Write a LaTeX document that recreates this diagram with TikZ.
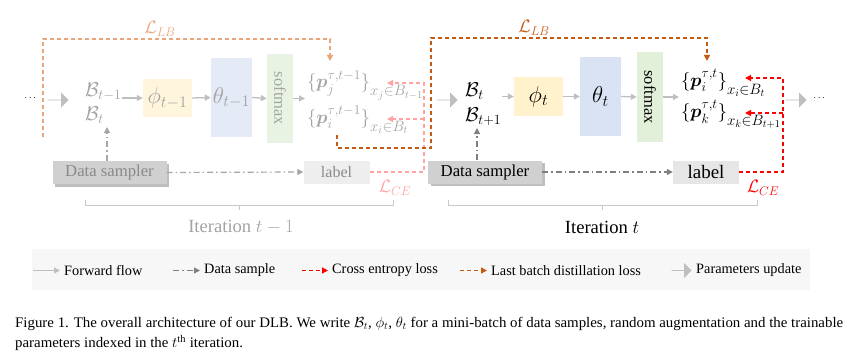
\RequirePackage{fix-cm}
\documentclass[tikz,border=0pt]{standalone}
\usepackage{amsmath}
\usepackage{fontspec}
\setmainfont{Liberation Serif}
\usetikzlibrary{arrows.meta,shapes.arrows,shadows,calc}
\definecolor{fwdg}{HTML}{BFBFBF}
\definecolor{dsg}{HTML}{7F7F7F}
\definecolor{dsgl}{HTML}{A6A6A6}
\definecolor{ored}{HTML}{C55A11}
\definecolor{oredl}{HTML}{EBA57A}
\definecolor{cered}{HTML}{FF0000}
\definecolor{cel}{HTML}{FFA3A3}
\definecolor{phic}{HTML}{FFF2CC}
\definecolor{phicl}{HTML}{FFF5DC}
\definecolor{thc}{HTML}{DAE3F3}
\definecolor{thcl}{HTML}{E4EAF6}
\definecolor{smc}{HTML}{E2F0D9}
\definecolor{smcl}{HTML}{E9F3E3}
\definecolor{dsc}{HTML}{D0D0D0}
\definecolor{lbc}{HTML}{E7E6E6}
\definecolor{lbcl}{HTML}{EEEEEE}
\definecolor{gtx}{HTML}{A3A3A3}
\definecolor{gtxd}{HTML}{8A8A8A}
\definecolor{bracec}{HTML}{C8C8C8}
\definecolor{legbg}{HTML}{F7F7F7}
\newcommand\myfs[1]{\fontsize{#1}{#1}\selectfont}
\newcommand\lowsub[1]{\raisebox{-8pt}{\myfs{15}$#1$}}
\newcommand\bigscr[1]{\mbox{\myfs{13.5}$#1$}}
\tikzset{
  tip/.style={-{Triangle[length=6pt,width=6pt]}},
  fwd/.style={draw=fwdg, line width=1.3pt, tip},
  samp/.style={draw=dsg, line width=1.2pt, dash pattern=on 6pt off 3pt on 1.5pt off 3pt, tip},
  sampl/.style={samp, draw=dsgl},
  celoss/.style={draw=cered, line width=1.3pt, dash pattern=on 4pt off 3pt, tip},
  celossl/.style={celoss, draw=cel},
  lbloss/.style={draw=ored, line width=1.5pt, dash pattern=on 4pt off 3pt, tip},
  lblossl/.style={lbloss, draw=oredl},
  bigarr/.style={single arrow, fill=fwdg, draw=none, minimum height=21pt, minimum width=15pt, single arrow head extend=3.5pt, inner sep=0pt},
  mbox/.style={inner sep=0pt, draw=none},
  dsbox/.style={fill=dsc, minimum width=114pt, minimum height=23pt, inner sep=0pt, font=\myfs{16.7},
     drop shadow={shadow xshift=2.5pt, shadow yshift=-2.5pt, fill=black, opacity=0.25}},
  lbox/.style={minimum width=66pt, minimum height=23pt, inner sep=0pt},
  mtxt/.style={inner sep=0pt, anchor=base west},
  legtxt/.style={inner sep=0pt, anchor=west, font=\myfs{14.3}},
}
\newsavebox\capA
\begin{document}
\sbox\capA{\myfs{14.6}Figure 1. The overall architecture of our DLB. We write $\mathcal{B}_t$, $\phi_t$, $\theta_t$ for a mini-batch of data samples, random augmentation and the trainable}%
\pgfmathsetmacro\capsx{828/\wd\capA}%
\begin{tikzpicture}[x=1pt,y=-1pt]
\useasboundingbox (0,0) rectangle (854,361);
% ---------------- iteration t-1 (faded) ----------------
\node (dotl) at (31,98) {$\cdots$};
\node[bigarr] (ba1) at (58,100) {};
\node[mtxt, text=gtx, font=\myfs{20}] (bl1) at (85,96.5) {$\mathcal{B}_{t-1}$};
\node[mtxt, text=gtx, font=\myfs{20}] (bl2) at (85,120.5) {$\mathcal{B}_{t}$};
\node[mbox, fill=phicl, minimum width=49pt, minimum height=38pt, text=gtx, font=\myfs{23}] (phil) at (167.5,98) {$\phi_{t-1}$};
\node[mbox, fill=thcl, minimum width=41pt, minimum height=79pt, text=gtx, font=\myfs{23}] (thl) at (231.5,97.5) {$\theta_{t-1}$};
\node[mbox, fill=smcl, minimum width=26pt, minimum height=89pt, text=gtx, font=\myfs{16.5}] (sml) at (280,98.5) {\rotatebox{-90}{softmax}};
\node[mtxt, text=gtx, font=\myfs{18.5}] (pjl) at (307,88) {$\{\boldsymbol{p}_{\bigscr{j}}^{\bigscr{\tau{,}t{-}1}}\}$\lowsub{x_j{\in}B_{t-1}}};
\node[mtxt, text=gtx, font=\myfs{18.5}] (pil) at (307,123) {$\{\boldsymbol{p}_{\bigscr{i}}^{\bigscr{\tau{,}t{-}1}}\}$\lowsub{x_i{\in}B_{t}}};
\coordinate (pinl) at (305,98.5);
\draw[fwd] (bl1.east |- phil.west) -- (phil.west);
\draw[fwd] (phil.east) -- (thl.west);
\draw[fwd] (thl.east) -- (sml.west);
\draw[fwd] (sml.east) -- (pinl);
\node[dsbox, text=gtxd] (dsl) at (109.5,172.5) {Data sampler};
\node[lbox, fill=lbcl, text=gtxd, font=\myfs{16}] (lbll) at (336.5,172) {label};
\coordinate (upl) at (107,127);
\draw[sampl] (dsl.north -| upl) -- (upl);
\draw[sampl] (dsl.east) -- (lbll.west);
% faded losses
\coordinate (cel1) at (424,83); \coordinate (cel2) at (424,119);
\coordinate (celt1) at (387,83); \coordinate (celt2) at (387,119);
\draw[celossl] (lbll.east) -| (cel1) -- (celt1);
\draw[celossl] (cel2) -- (celt2);
\node[text=cel, font=\myfs{18}] (lcel) at (395,188) {$\mathcal{L}_{CE}$};
\coordinate (lbsl) at (43,137); \coordinate (lbal) at (43,39); \coordinate (lbbl) at (330,39); \coordinate (lbtl) at (330,61);
\draw[lblossl] (lbsl) -- (lbal) -- (lbbl) -- (lbtl);
\node[text=oredl, font=\myfs{18}] (llbl) at (160,29) {$\mathcal{L}_{LB}$};
% brace t-1
\coordinate (brl1) at (85,200); \coordinate (brl2) at (393,200);
\draw[bracec, line width=0.9pt] (brl1) -- ++(0,5) -| (brl2);
\draw[bracec, line width=0.9pt] (239,205) -- (239,210);
\node[text=gtx, font=\myfs{18.6}] (itl) at (241,227) {Iteration $t-1$};
% ---------------- iteration t ----------------
\node[bigarr] (ba2) at (447,100) {};
\node[mtxt, font=\myfs{20}] (br1) at (465,96.5) {$\mathcal{B}_{t}$};
\node[mtxt, font=\myfs{20}] (br2) at (465,121.5) {$\mathcal{B}_{t+1}$};
\node[mbox, fill=phic, minimum width=49pt, minimum height=39pt, font=\myfs{23}] (phir) at (538.5,96.5) {$\phi_{t}$};
\node[mbox, fill=thc, minimum width=41pt, minimum height=79pt, font=\myfs{23}] (thr) at (600.5,96.5) {$\theta_{t}$};
\node[mbox, fill=smc, minimum width=26pt, minimum height=90pt, font=\myfs{16.5}] (smr) at (650,97) {\rotatebox{-90}{softmax}};
\node[mtxt, font=\myfs{18.5}] (pir) at (681,86.7) {$\{\boldsymbol{p}_{\bigscr{i}}^{\bigscr{\tau{,}t}}\}$\lowsub{x_i{\in}B_{t}}};
\node[mtxt, font=\myfs{18.5}] (pkr) at (681,117.5) {$\{\boldsymbol{p}_{\bigscr{k}}^{\bigscr{\tau{,}t}}\}$\lowsub{x_k{\in}B_{t+1}}};
\coordinate (pinr) at (679,97);
\draw[fwd] (br2.east |- phir.west) -- (phir.west);
\draw[fwd] (phir.east) -- (thr.west);
\draw[fwd] (thr.east) -- (smr.west);
\draw[fwd] (smr.east) -- (pinr);
\node[bigarr] (ba3) at (796,100) {};
\node (dotr) at (820,98) {$\cdots$};
\node[dsbox] (dsr) at (485,172) {Data sampler};
\node[lbox, fill=lbc, font=\myfs{19}] (lblr) at (706,172) {label};
\coordinate (upr) at (477,128);
\draw[samp] (dsr.north -| upr) -- (upr);
\draw[samp] (dsr.east) -- (lblr.west);
\coordinate (cer1) at (783,78); \coordinate (cer2) at (783,113);
\coordinate (cert1) at (745,78); \coordinate (cert2) at (745,113);
\draw[celoss] (lblr.east) -| (cer1) -- (cert1);
\draw[celoss] (cer2) -- (cert2);
\node[text=cered, font=\myfs{18}] (lcer) at (763,188) {$\mathcal{L}_{CE}$};
\coordinate (lbs) at (337,135); \coordinate (lbc1) at (431,148); \coordinate (lbc2) at (431,38);
\coordinate (lbc3) at (707,38); \coordinate (lbt) at (707,61);
\draw[lbloss] (lbs) |- (lbc1) -- (lbc2) -- (lbc3) -- (lbt);
\node[text=ored, font=\myfs{18}] (llbr) at (534,28) {$\mathcal{L}_{LB}$};
% brace t
\coordinate (brr1) at (448,200); \coordinate (brr2) at (757,200);
\draw[bracec, line width=0.9pt] (brr1) -- ++(0,5) -| (brr2);
\draw[bracec, line width=0.9pt] (602,205) -- (602,210);
\node[font=\myfs{18.6}] (itr) at (602,227) {Iteration $t$};
% ---------------- legend ----------------
\node[fill=legbg, minimum width=778pt, minimum height=41pt, inner sep=0pt, anchor=north west] (leg) at (32,249) {};
\coordinate (lg1a) at (33,270.5); \coordinate (lg1b) at (60,270.5);
\draw[fwd, line width=1pt] (lg1a) -- (lg1b);
\node[legtxt] (lt1) at (64,270.5) {Forward flow};
\coordinate (lg2a) at (173,270.5); \coordinate (lg2b) at (200,270.5);
\draw[samp, line width=1pt] (lg2a) -- (lg2b);
\node[legtxt] (lt2) at (204,270.5) {Data sample};
\coordinate (lg3a) at (302,270.5); \coordinate (lg3b) at (328,270.5);
\draw[celoss] (lg3a) -- (lg3b);
\node[legtxt] (lt3) at (332,270.5) {Cross entropy loss};
\coordinate (lg4a) at (460,270.5); \coordinate (lg4b) at (487,270.5);
\draw[lbloss, line width=1.3pt] (lg4a) -- (lg4b);
\node[legtxt] (lt4) at (491,270.5) {Last batch distillation loss};
\node[bigarr, minimum height=20pt] (lg5) at (681.5,270.5) {};
\node[legtxt] (lt5) at (696,270) {Parameters update};
% ---------------- caption ----------------
\node[inner sep=0pt, anchor=base west] (cap1) at (15,327.7) {\scalebox{\capsx}[1]{\usebox\capA}};
\node[inner sep=0pt, anchor=base west, font=\myfs{14.6}] (cap2) at (15,347.7) {\scalebox{\capsx}[1]{parameters indexed in the $t^{\mathrm{th}}$ iteration.}};
\end{tikzpicture}
\end{document}
